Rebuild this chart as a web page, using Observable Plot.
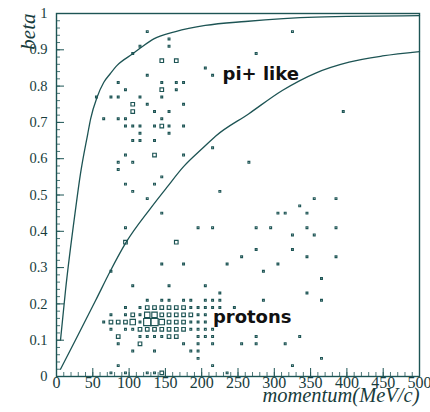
<!DOCTYPE html>
<html><head><meta charset="utf-8">
<script src="https://cdn.jsdelivr.net/npm/d3@7"></script>
<script src="https://cdn.jsdelivr.net/npm/@observablehq/plot@0.6"></script>
<style>body{margin:0;background:#fff}</style>
</head><body><div id="chart"></div>
<script>
// ---- data: [momentum (MeV/c), beta, bin content] ----
const piCluster = [
 [125,.95,1],[155,.93,1],[115,.91,1],[155,.91,1],[105,.89,1],[145,.87,2],[165,.87,2],[205,.85,1],[125,.83,1],[215,.83,1],
 [85,.81,1],[145,.81,1],[165,.81,1],[175,.81,1],[95,.79,1],[145,.79,2],[165,.79,1],
 [55,.77,1],[75,.77,1],[85,.77,1],[115,.77,1],[145,.77,1],[105,.75,2],[125,.75,1],[175,.75,1],
 [105,.73,2],[135,.73,1],[155,.73,1],[65,.71,1],[85,.71,1],[95,.71,1],[145,.71,1],
 [95,.69,1],[105,.69,1],[115,.69,1],[135,.69,1],[145,.69,2],[155,.69,1],[175,.69,1],
 [115,.67,1],[155,.67,1],[105,.65,1],[115,.65,1],[135,.65,1],[215,.63,1],[95,.61,1],[135,.61,2],[175,.61,1],
 [85,.59,1],[105,.59,1],[85,.57,1],[145,.55,1],[95,.53,1],[135,.53,1],[105,.51,1],[125,.49,1],[145,.45,1]
];
const midScatter = [
 [95,.41,1],[195,.41,1],[215,.41,1],[95,.37,2],[165,.37,2],[145,.31,1],[175,.31,1],[75,.29,1],
 [105,.25,1],[155,.25,1],[205,.25,1]
];
const highMomentum = [
 [325,.95,1],[275,.89,1],[395,.73,1],[265,.59,1],[225,.51,1],[355,.49,1],[385,.49,1],[335,.47,1],
 [305,.45,1],[315,.45,1],[345,.45,1],[275,.41,1],[295,.41,1],[345,.41,1],[385,.41,1],[325,.39,1],[355,.39,1],
 [275,.35,1],[325,.35,1],[255,.33,1],[345,.33,1],[385,.33,1],[235,.31,1],[305,.31,1],[285,.29,1],[365,.27,1],
 [225,.23,1],[345,.23,1],[225,.21,1],[285,.21,1],[365,.21,1],[225,.19,1],[245,.19,1],
 [275,.11,1],[335,.11,1],[255,.09,1],[275,.09,1],[315,.09,1],[365,.05,1],[325,.03,1],[235,.01,1]
];
const protonCluster = [
 [125,.21,1],[145,.21,1],[155,.21,1],[175,.21,1],[185,.21,1],[205,.21,1],[215,.21,1],
 [95,.19,1],[115,.19,1],[125,.19,2],[135,.19,2],[145,.19,2],[155,.19,2],[165,.19,2],[175,.19,2],[185,.19,1],[195,.19,1],[205,.19,1],[215,.19,1],
 [75,.17,1],[95,.17,1],[105,.17,2],[115,.17,1],[125,.17,3],[135,.17,3],[145,.17,2],[155,.17,2],[165,.17,2],[175,.17,2],[185,.17,2],[195,.17,1],[205,.17,1],
 [65,.15,1],[75,.15,2],[85,.15,2],[95,.15,2],[105,.15,3],[115,.15,1],[125,.15,4],[135,.15,4],[145,.15,3],[155,.15,2],[165,.15,2],[175,.15,2],[185,.15,1],[195,.15,1],[205,.15,1],
 [75,.13,1],[95,.13,1],[105,.13,1],[115,.13,2],[125,.13,2],[135,.13,2],[145,.13,2],[155,.13,2],[165,.13,2],[175,.13,2],[185,.13,1],[195,.13,1],[205,.13,1],[215,.13,1],
 [85,.11,2],[115,.11,1],[125,.11,1],[135,.11,1],[145,.11,1],[155,.11,2],[165,.11,2],[195,.11,1],[205,.11,1],[215,.11,1],
 [85,.09,1],[115,.09,2],[175,.09,1],[195,.09,1],[215,.09,1],
 [105,.07,1],[135,.07,1],[185,.07,1],[195,.07,1],
 [195,.05,1],[85,.03,1],[215,.03,1],
 [75,.01,1],[95,.01,1],[125,.01,1],[135,.01,1],[145,.01,2]
];
// cut curves: [momentum, beta]
const piCut = [[5.5,0.10],[12.4,0.237],[26,0.457],[33,0.558],[43,0.668],[47,0.71],[56,0.77],[65,0.81],[74,0.834],[83.5,0.857],
 [105,0.889],[115,0.904],[134,0.93],[164,0.95],[205,0.967],[260,0.978],[357,0.99],[500,0.994]];
const protonCut = [[5.5,0.02],[26,0.10],[54,0.21],[74,0.29],[96,0.37],[129,0.462],[152,0.521],[175,0.578],
 [203,0.632],[219,0.662],[265,0.724],[311,0.788],[357,0.836],[403,0.866],[449,0.883],[500,0.895]];
// annotations
const noteText = ["pi+ like", "protons"];
const noteMomentum = [228.7, 215.4];
const noteBeta = [0.834, 0.162];
// axes
const xTicks = [0,50,100,150,200,250,300,350,400,450,500];
const xTickLabels = ["0","50","100","150","200","250","300","350","400","450","500"];
const xMinor = d3.range(0, 501, 10);
const yTicks = [0,0.1,0.2,0.3,0.4,0.5,0.6,0.7,0.8,0.9,1];
const yTickLabels = ["0","0.1","0.2","0.3","0.4","0.5","0.6","0.7","0.8","0.9","1"];
const yMinor = d3.range(0, 51).map(i => i / 50);

const bins = [...piCluster, ...midScatter, ...highMomentum, ...protonCluster]
  .map(([p, b, c]) => ({p, b, c}));
const notes = noteText.map((t, i) => ({t, p: noteMomentum[i], b: noteBeta[i]}));

const teal = "#1d5454";
const ink = "#183c3c";
const serif = "Liberation Serif, Times New Roman, serif";
const W = 430, H = 412, ML = 56, MR = 11, MT = 13, MB = 36;
const frameW = W - ML - MR, frameH = H - MT - MB;

const chart = Plot.plot({
  width: W, height: H,
  marginLeft: ML, marginRight: MR, marginTop: MT, marginBottom: MB,
  style: {background: "#fff", fontFamily: serif},
  x: {domain: [0, 500]},
  y: {domain: [0, 1]},
  r: {type: "linear", domain: [0, 4], range: [0, 4.06]},
  marks: [
    // inward tick marks (ROOT style), minor then major
    Plot.tickY(yMinor, {y: d => d, insetRight: frameW - 4, stroke: teal, strokeWidth: 0.8}),
    Plot.tickY(yTicks, {y: d => d, insetRight: frameW - 8, stroke: teal, strokeWidth: 1}),
    Plot.tickX(xMinor, {x: d => d, insetTop: frameH - 4, stroke: teal, strokeWidth: 0.8}),
    Plot.tickX(xTicks, {x: d => d, insetTop: frameH - 8, stroke: teal, strokeWidth: 1}),
    Plot.axisY(yTicks, {tickSize: 0, tickPadding: 9, tickFormat: (d, i) => yTickLabels[i], fontSize: 14.5, fill: ink, fontFamily: serif, label: null}),
    Plot.axisX(xTicks, {tickSize: 0, tickPadding: 0, tickFormat: (d, i) => xTickLabels[i], fontSize: 16, fill: ink, fontFamily: serif, label: null}),
    Plot.frame({stroke: teal, strokeWidth: 1.4}),
    Plot.line(piCut, {curve: "monotone-x", stroke: teal, strokeWidth: 1.3}),
    Plot.line(protonCut, {curve: "monotone-x", stroke: teal, strokeWidth: 1.3}),
    Plot.dot(bins, {x: "p", y: "b", r: "c", symbol: "square", fill: "none", stroke: teal, strokeWidth: 1.15}),
    Plot.text(notes, {x: "p", y: "b", text: "t", textAnchor: "start", fontSize: 18, fontWeight: "bold", fontFamily: "DejaVu Sans", fill: "#111"}),
    Plot.text(["beta"], {frameAnchor: "top-left", dx: -36, rotate: -90, textAnchor: "end", fontSize: 21, fontStyle: "italic", fontFamily: serif, fill: ink}),
    Plot.text(["momentum(MeV/c)"], {frameAnchor: "bottom-right", dy: 25, textAnchor: "end", fontSize: 20.5, fontStyle: "italic", fontFamily: serif, fill: ink})
  ]
});
document.getElementById("chart").appendChild(chart);
</script>
</body></html>
